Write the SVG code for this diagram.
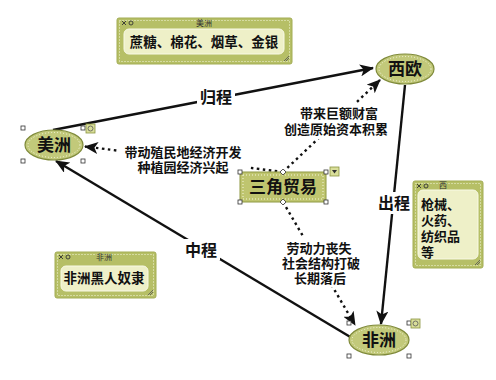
<svg xmlns="http://www.w3.org/2000/svg" width="496" height="380" viewBox="0 0 496 380">
<defs>
<style>
.bg{fill:#ffffff}
.nout{fill:#b6bf66;stroke:#a3ad55;stroke-width:1}
.ndot{fill:none;stroke:#f4f6dc;stroke-width:1;stroke-dasharray:1 2}
.nin{fill:#eef0c8;stroke:#f8f9e6;stroke-width:1}
.ntitle{font-family:"Noto Sans CJK SC","Liberation Sans",sans-serif;font-size:8px;fill:#333;text-anchor:middle}
.ntext{font-family:"Noto Sans CJK SC","Liberation Sans",sans-serif;font-size:13.5px;font-weight:bold;fill:#111}
.ntext2{font-family:"Liberation Sans","Noto Sans CJK SC",sans-serif;font-size:13px;font-weight:bold;fill:#111}
.ell{fill:#c2c97a;stroke:#7f8a3a;stroke-width:1.2}
.edot{fill:none;stroke:#f6f8e0;stroke-width:1;stroke-dasharray:1 2}
.etext{font-family:"Noto Sans CJK SC","Liberation Sans",sans-serif;font-size:17px;font-weight:bold;fill:#111;text-anchor:middle}
.box{fill:#bfc56f;stroke:#8f9a45;stroke-width:1}
.hnd{fill:#fff;stroke:#333;stroke-width:0.8}
.solid{fill:none;stroke:#111;stroke-width:2.4}
.dot{fill:none;stroke:#111;stroke-width:2.4;stroke-dasharray:2.5 3.5}
.lbl{font-family:"Noto Sans CJK SC","Liberation Sans",sans-serif;font-size:16px;font-weight:bold;fill:#111;text-anchor:middle}
.dlbl{font-family:"Liberation Sans","Noto Sans CJK SC",sans-serif;font-size:13px;font-weight:bold;fill:#111;text-anchor:middle}
.icon{fill:#d9de9a;stroke:#8a9440;stroke-width:0.8}
</style>
<marker id="arr" markerUnits="userSpaceOnUse" viewBox="0 0 14 12" refX="13" refY="6" markerWidth="14" markerHeight="12" orient="auto">
<path d="M0,0 L14,6 L0,12 L3.5,6 z" fill="#111"/>
</marker>
</defs>
<rect class="bg" x="0" y="0" width="496" height="380"/>

<g id="connectors">
<line class="solid" x1="53" y1="130" x2="373" y2="68" marker-end="url(#arr)"/>
<line class="solid" x1="405" y1="85" x2="381" y2="324" marker-end="url(#arr)"/>
<line class="solid" x1="352" y1="338" x2="56" y2="161" marker-end="url(#arr)"/>
<path class="dot" d="M283,172 C250,168 130,152 85,146.5" marker-end="url(#arr)"/>
<path class="dot" d="M283,172 L380,80" marker-end="url(#arr)"/>
<path class="dot" d="M283,202 L355,325" marker-end="url(#arr)"/>
<rect x="197" y="87" width="38" height="20" fill="#fff"/>
<text class="lbl" x="216" y="103">归程</text>
<rect x="376" y="192" width="36" height="22" fill="#fff"/>
<text class="lbl" x="394" y="209">出程</text>
<rect x="182" y="239" width="38" height="21" fill="#fff"/>
<text class="lbl" x="201" y="256">中程</text>
<rect x="118" y="142" width="130" height="34" fill="#fff"/>
<text class="dlbl" x="183" y="157">带动殖民地经济开发</text>
<text class="dlbl" x="183" y="172">种植园经济兴起</text>
<rect x="280" y="103" width="114" height="36" fill="#fff"/>
<text class="dlbl" x="339" y="118">带来巨额财富</text>
<text class="dlbl" x="336" y="134">创造原始资本积累</text>
<rect x="281" y="237" width="78" height="50" fill="#fff"/>
<text class="dlbl" x="319" y="253">劳动力丧失</text>
<text class="dlbl" x="321" y="268">社会结构打破</text>
<text class="dlbl" x="320" y="283">长期落后</text>
</g>

<g id="node-meizhou">
<ellipse class="ell" cx="54" cy="145" rx="29" ry="15"/>
<ellipse class="edot" cx="54" cy="145" rx="26" ry="12.5"/>
<text class="etext" x="54" y="151">美洲</text>
<rect class="hnd" x="21" y="126" width="4" height="4"/>
<rect class="hnd" x="81" y="126" width="4" height="4"/>
<rect class="hnd" x="21" y="159" width="4" height="4"/>
<rect class="hnd" x="81" y="159" width="4" height="4"/>
<rect class="icon" x="86" y="124" width="9" height="9"/>
<circle cx="90.5" cy="128.5" r="2.5" fill="none" stroke="#555" stroke-width="0.8"/>
</g>

<g id="node-xiou">
<ellipse class="ell" cx="405" cy="69" rx="29" ry="15"/>
<ellipse class="edot" cx="405" cy="69" rx="26" ry="12.5"/>
<text class="etext" x="405" y="75">西欧</text>
</g>

<g id="node-feizhou">
<ellipse class="ell" cx="379" cy="340" rx="30" ry="15"/>
<ellipse class="edot" cx="379" cy="340" rx="27" ry="12.5"/>
<text class="etext" x="379" y="346">非洲</text>
<rect class="hnd" x="347" y="321" width="4" height="4"/>
<rect class="hnd" x="407" y="321" width="4" height="4"/>
<rect class="hnd" x="347" y="354" width="4" height="4"/>
<rect class="hnd" x="407" y="354" width="4" height="4"/>
<rect class="icon" x="411" y="319" width="9" height="9"/>
<circle cx="415.5" cy="323.5" r="2.5" fill="none" stroke="#555" stroke-width="0.8"/>
</g>

<g id="node-sanjiao">
<rect class="box" x="240" y="172" width="86" height="30"/>
<rect x="243" y="175" width="80" height="24" fill="none" stroke="#f4f6dc" stroke-width="1" stroke-dasharray="1 2"/>
<text class="etext" x="283" y="193">三角贸易</text>
<rect class="hnd" x="238" y="170" width="4" height="4"/>
<rect class="hnd" x="324" y="170" width="4" height="4"/>
<rect class="hnd" x="238" y="200" width="4" height="4"/>
<rect class="hnd" x="324" y="200" width="4" height="4"/>
<path class="hnd" d="M283,169 L286,172 L283,175 L280,172 z"/>
<path class="hnd" d="M283,199 L286,202 L283,205 L280,202 z"/>
<rect class="icon" x="330" y="167" width="9" height="9"/>
<path d="M332,170 L337,170 L334.5,173.5 z" fill="#333"/>
</g>

<g id="note-top">
<rect class="nout" x="117" y="18" width="175" height="46" rx="2"/>
<rect class="ndot" x="119.5" y="20.5" width="170" height="41"/>
<rect class="nin" x="124" y="29" width="160" height="25" rx="5"/>
<text class="ntitle" x="204" y="26">美洲</text>
<text class="ntext" x="204" y="47" text-anchor="middle">蔗糖、棉花、烟草、金银</text>
<path d="M122,21 l4,4 m0,-4 l-4,4" stroke="#333" stroke-width="0.9"/>
<circle cx="131" cy="23" r="2" fill="none" stroke="#333" stroke-width="0.9"/>
<path d="M284,61 l5,-5 m-3,5 l3,-3" stroke="#555" stroke-width="0.8"/>
</g>

<g id="note-right">
<rect class="nout" x="413" y="181" width="70" height="87" rx="2"/>
<rect class="ndot" x="415.5" y="183.5" width="65" height="82"/>
<rect class="nin" x="418" y="190" width="60" height="69" rx="5"/>
<text class="ntitle" x="443" y="188">西</text>
<text class="ntext2" x="421" y="209">枪械、</text>
<text class="ntext2" x="421" y="225">火药、</text>
<text class="ntext2" x="421" y="241">纺织品</text>
<text class="ntext2" x="421" y="257">等</text>
<path d="M417,184 l4,4 m0,-4 l-4,4" stroke="#333" stroke-width="0.9"/>
<circle cx="426" cy="186" r="2" fill="none" stroke="#333" stroke-width="0.9"/>
<path d="M475,265 l5,-5 m-3,5 l3,-3" stroke="#555" stroke-width="0.8"/>
</g>

<g id="note-left">
<rect class="nout" x="55" y="252" width="101" height="46" rx="2"/>
<rect class="ndot" x="57.5" y="254.5" width="96" height="41"/>
<rect class="nin" x="61" y="266" width="87" height="25" rx="5"/>
<text class="ntitle" x="104" y="260">非洲</text>
<text class="ntext" x="104" y="283" text-anchor="middle">非洲黑人奴隶</text>
<path d="M59,255 l4,4 m0,-4 l-4,4" stroke="#333" stroke-width="0.9"/>
<circle cx="68" cy="257" r="2" fill="none" stroke="#333" stroke-width="0.9"/>
<path d="M148,295 l5,-5 m-3,5 l3,-3" stroke="#555" stroke-width="0.8"/>
</g>
</svg>
